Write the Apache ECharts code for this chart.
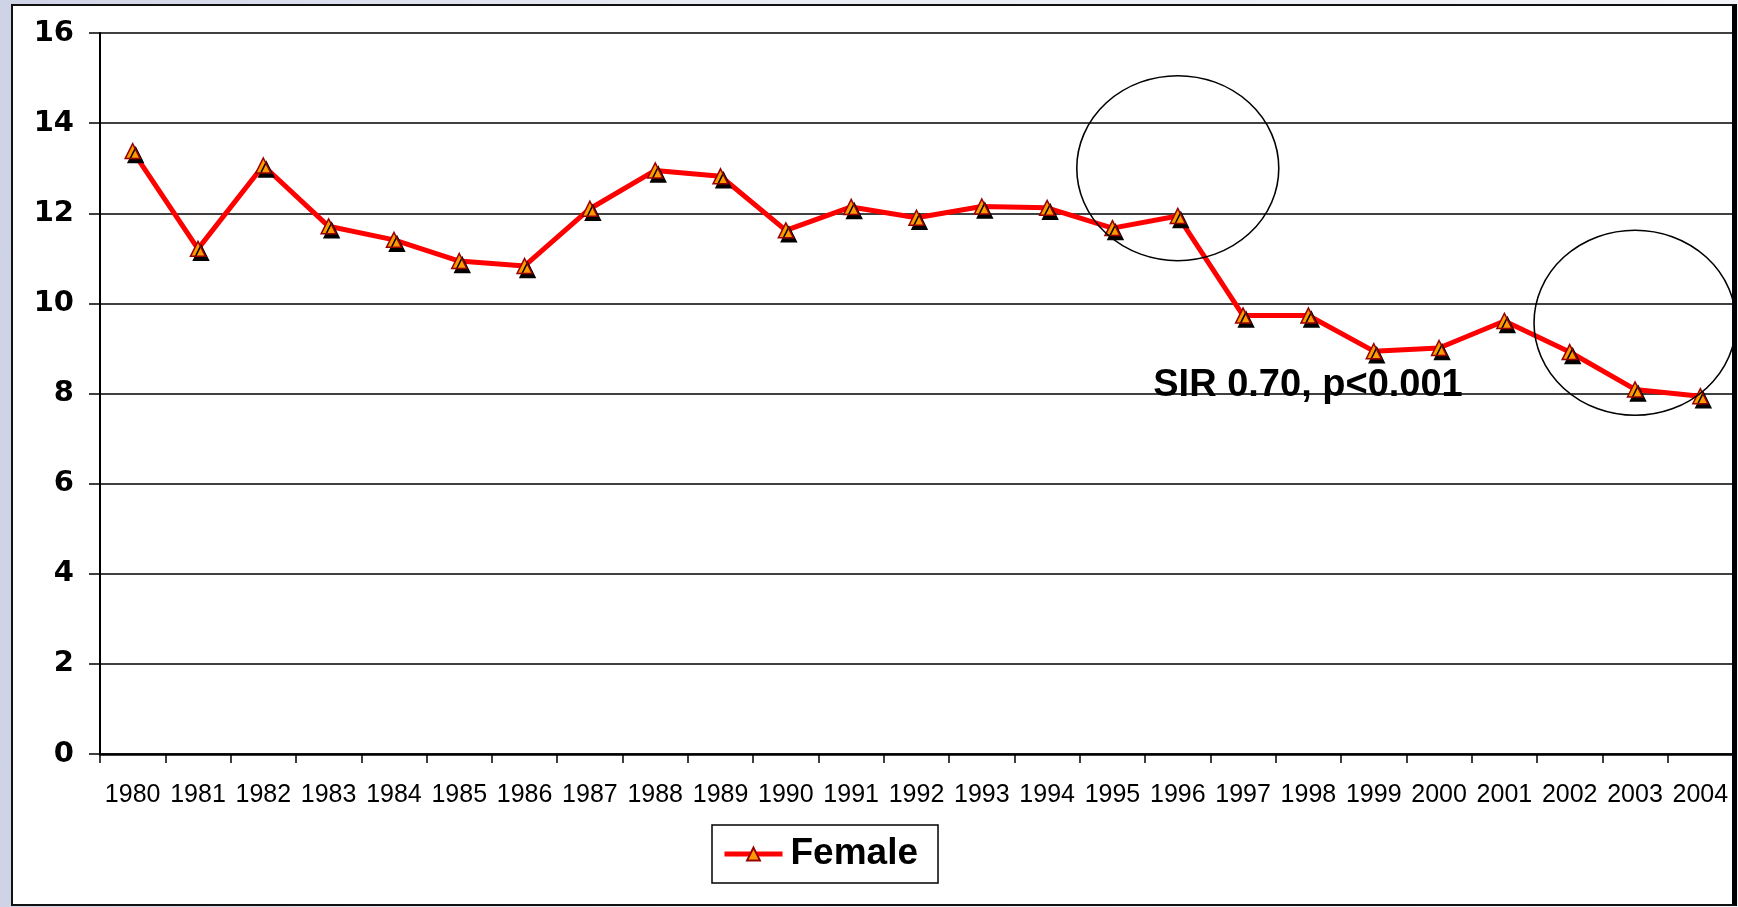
<!DOCTYPE html>
<html>
<head>
<meta charset="utf-8">
<title>Female SIR 1980-2004</title>
<script src="https://cdn.jsdelivr.net/npm/echarts@6/dist/echarts.min.js"></script>
<style>
  html, body { margin: 0; padding: 0; }
  body {
    width: 1738px; height: 907px; overflow: hidden; position: relative;
    background: linear-gradient(90deg, #cfd3e6 0%, #e9ebf4 40%, #f3f4f9 100%);
  }
  #frame {
    position: absolute; left: 11px; top: 4px; width: 1719px; height: 898px;
    border: 2px solid #111; border-right: 5px solid #000; background: #fff;
  }
  #main { position: absolute; left: 0; top: 0; width: 1738px; height: 907px; }
</style>
</head>
<body>
<div id="frame"></div>
<div id="main"></div>
<script>
// data
const years = ['1980','1981','1982','1983','1984','1985','1986','1987','1988','1989',
  '1990','1991','1992','1993','1994','1995','1996','1997','1998','1999',
  '2000','2001','2002','2003','2004'];
const female = [13.38, 11.21, 13.06, 11.71, 11.41, 10.94, 10.83, 12.1, 12.95, 12.82,
  11.62, 12.14, 11.9, 12.15, 12.12, 11.67, 11.94, 9.73, 9.73, 8.94,
  9.01, 9.61, 8.92, 8.09, 7.94];
const yTicks = [0, 2, 4, 6, 8, 10, 12, 14, 16];
const circled = [['1996', 13.0], ['2003', 9.57]];
const note = 'SIR 0.70, p<0.001';

const font = '"Liberation Sans", Arial, Helvetica, sans-serif';
const chart = echarts.init(document.getElementById('main'));

const option = {
  animation: false,
  backgroundColor: 'transparent',
  textStyle: { fontFamily: font, color: '#000' },
  grid: { left: 100, right: 5, top: 33, bottom: 153 },
  legend: {
    data: ['Female'],
    left: 712, top: 825,
    padding: [7, 20, 7, 10],
    borderColor: '#000', borderWidth: 1.5,
    backgroundColor: '#fff',
    itemWidth: 58, itemHeight: 16, itemGap: 0,
    lineStyle: { width: 5 },
    textStyle: { fontSize: 37, fontWeight: 'bold', color: '#000', fontFamily: font, lineHeight: 44, padding: [0, 0, 0, 3] }
  },
  xAxis: {
    type: 'category',
    data: years,
    boundaryGap: true,
    axisLine: { lineStyle: { color: '#000', width: 2.5 } },
    axisTick: { show: true, length: 9, lineStyle: { color: '#000', width: 1.5 } },
    axisLabel: { interval: 0, fontSize: 25, color: '#000', margin: 29, fontFamily: font },
    splitLine: { show: false }
  },
  yAxis: {
    type: 'value',
    min: yTicks[0], max: yTicks[yTicks.length - 1], interval: 2,
    axisLine: { show: true, lineStyle: { color: '#000', width: 2 } },
    axisTick: { show: true, length: 11, lineStyle: { color: '#000', width: 1.5 } },
    axisLabel: {
      fontSize: 29, fontWeight: 'bold', color: '#000', margin: 26,
      fontFamily: '"DejaVu Sans", Verdana, sans-serif', padding: [4, 0, 0, 0]
    },
    splitLine: { show: true, lineStyle: { color: '#000', width: 1.5 } }
  },
  series: [{
    name: 'Female',
    type: 'line',
    data: female,
    symbol: 'triangle',
    symbolSize: [15, 15],
    lineStyle: { color: '#ff0000', width: 5 },
    itemStyle: {
      color: '#ff9900', borderColor: '#990000', borderWidth: 1.5,
      shadowColor: '#000', shadowOffsetX: 3, shadowOffsetY: 4, shadowBlur: 0
    },
    markPoint: {
      symbol: 'circle',
      symbolSize: [202, 185],
      silent: true,
      label: { show: false },
      itemStyle: { color: 'rgba(0,0,0,0)', borderColor: '#000', borderWidth: 1.5, shadowBlur: 0, shadowColor: 'rgba(0,0,0,0)' },
      data: circled.map(c => ({ coord: c }))
    }
  }],
  graphic: [{
    type: 'text',
    x: 1308, y: 386,
    style: {
      text: note,
      font: 'bold 38px ' + font,
      fill: '#000',
      align: 'center',
      verticalAlign: 'middle'
    }
  }]
};

chart.setOption(option);
window.addEventListener('resize', () => chart.resize());
</script>
</body>
</html>
